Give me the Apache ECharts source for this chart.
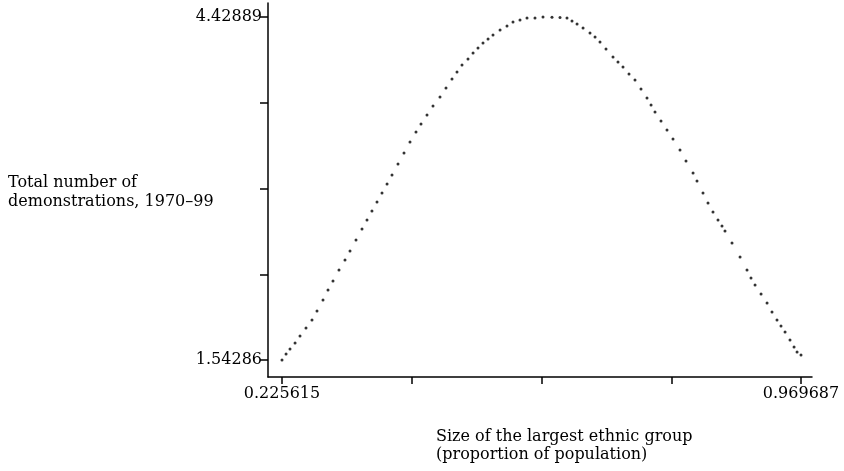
<!DOCTYPE html>
<html>
<head>
<meta charset="utf-8">
<script src="https://cdn.jsdelivr.net/npm/echarts@6/dist/echarts.min.js"></script>
<style>
  html, body { margin: 0; padding: 0; background: #fff; }
  #main { width: 844px; height: 471px; }
</style>
</head>
<body>
<div id="main"></div>
<script>
// data: share of largest ethnic group vs. predicted demonstrations
var groupShare = [
  0.2256, 0.2314, 0.2371, 0.2443, 0.2514, 0.2600, 0.2686, 0.2758, 0.2844, 0.2916,
  0.2987, 0.3073, 0.3159, 0.3231, 0.3317, 0.3403, 0.3475, 0.3546, 0.3618, 0.3690,
  0.3762, 0.3833, 0.3919, 0.4005, 0.4091, 0.4177, 0.4249, 0.4335, 0.4421, 0.4521,
  0.4607, 0.4693, 0.4765, 0.4837, 0.4923, 0.4995, 0.5066, 0.5138, 0.5210, 0.5281,
  0.5382, 0.5482, 0.5568, 0.5668, 0.5769, 0.5883, 0.5998, 0.6127, 0.6242, 0.6342,
  0.6414, 0.6486, 0.6572, 0.6672, 0.6744, 0.6815, 0.6901, 0.7002, 0.7073, 0.7145,
  0.7231, 0.7317, 0.7403, 0.7489, 0.7547, 0.7604, 0.7690, 0.7776, 0.7862, 0.7962,
  0.8048, 0.8149, 0.8206, 0.8292, 0.8364, 0.8435, 0.8507, 0.8564, 0.8607, 0.8708,
  0.8823, 0.8923, 0.8980, 0.9038, 0.9124, 0.9210, 0.9281, 0.9353, 0.9410, 0.9468,
  0.9539, 0.9597, 0.9640, 0.9697
];
var demonstrations = [
  1.5429, 1.5933, 1.6354, 1.6859, 1.7448, 1.8121, 1.8794, 1.9551, 2.0477, 2.1318,
  2.2076, 2.3001, 2.3843, 2.4600, 2.5525, 2.6451, 2.7208, 2.7966, 2.8723, 2.9480,
  3.0237, 3.0995, 3.1920, 3.2846, 3.3771, 3.4613, 3.5286, 3.6043, 3.6800, 3.7558,
  3.8315, 3.9072, 3.9661, 4.0250, 4.0755, 4.1260, 4.1681, 4.2101, 4.2438, 4.2774,
  4.3195, 4.3532, 4.3868, 4.4037, 4.4205, 4.4205, 4.4289, 4.4261, 4.4247, 4.4205,
  4.3952, 4.3700, 4.3363, 4.2943, 4.2606, 4.2185, 4.1596, 4.0923, 4.0503, 4.0082,
  3.9493, 3.8988, 3.8231, 3.7473, 3.6884, 3.6296, 3.5538, 3.4781, 3.4024, 3.3098,
  3.2173, 3.1163, 3.0490, 2.9480, 2.8639, 2.7881, 2.7208, 2.6703, 2.6283, 2.5273,
  2.4095, 2.3001, 2.2328, 2.1739, 2.0982, 2.0225, 1.9467, 1.8794, 1.8289, 1.7785,
  1.7111, 1.6522, 1.6102, 1.5849
];

// axis extremes printed on the plot
var xTicks = [0.225615, 0.969687];
var yTicks = [1.54286, 4.42889];

var font = "'DejaVu Serif', 'Liberation Serif', serif";

var points = groupShare.map(function (x, i) { return [x, demonstrations[i]]; });

function endLabel(lo, hi) {
  return function (v) {
    if (Math.abs(v - lo) < 1e-6) return String(lo);
    if (Math.abs(v - hi) < 1e-6) return String(hi);
    return "";
  };
}

var chart = echarts.init(document.getElementById("main"));

chart.setOption({
  animation: false,
  grid: [
    // outer frame: only the two axis lines
    { left: 268, right: 32, top: 3, bottom: 94 },
    // inner area: ticks, labels and points
    { left: 282, right: 43, top: 17, bottom: 111 }
  ],
  xAxis: [
    {
      gridIndex: 0, type: "value", min: 0, max: 1,
      axisLine: { onZero: false, lineStyle: { color: "#000", width: 1.5 } },
      axisTick: { show: false }, axisLabel: { show: false }, splitLine: { show: false }
    },
    {
      gridIndex: 1, type: "value",
      min: xTicks[0], max: xTicks[1], interval: (xTicks[1] - xTicks[0]) / 4,
      offset: 17,
      axisLine: { show: false, onZero: false },
      axisTick: { show: true, length: 7, lineStyle: { color: "#000", width: 1.5 } },
      axisLabel: {
        color: "#000", fontFamily: font, fontSize: 16, margin: 9,
        formatter: endLabel(xTicks[0], xTicks[1])
      },
      splitLine: { show: false }
    }
  ],
  yAxis: [
    {
      gridIndex: 0, type: "value", min: 0, max: 1,
      axisLine: { show: true, onZero: false, lineStyle: { color: "#000", width: 1.5 } },
      axisTick: { show: false }, axisLabel: { show: false }, splitLine: { show: false }
    },
    {
      gridIndex: 1, type: "value",
      min: yTicks[0], max: yTicks[1], interval: (yTicks[1] - yTicks[0]) / 4,
      offset: 14,
      axisLine: { show: false, onZero: false },
      axisTick: { show: true, length: 8, lineStyle: { color: "#000", width: 1.5 } },
      axisLabel: {
        color: "#000", fontFamily: font, fontSize: 16, margin: 6,
        formatter: endLabel(yTicks[0], yTicks[1])
      },
      splitLine: { show: false }
    }
  ],
  series: [
    {
      type: "scatter",
      xAxisIndex: 1, yAxisIndex: 1,
      data: points,
      symbol: "circle",
      symbolSize: 3,
      itemStyle: { color: "#000" }
    }
  ],
  graphic: [
    {
      type: "text", left: 8, top: 173,
      style: {
        text: "Total number of\ndemonstrations, 1970–99",
        fill: "#000", font: "16px " + font, lineHeight: 19
      }
    },
    {
      type: "text", left: 436, top: 428,
      style: {
        text: "Size of the largest ethnic group\n(proportion of population)",
        fill: "#000", font: "16px " + font, lineHeight: 18
      }
    }
  ]
});
</script>
</body>
</html>
